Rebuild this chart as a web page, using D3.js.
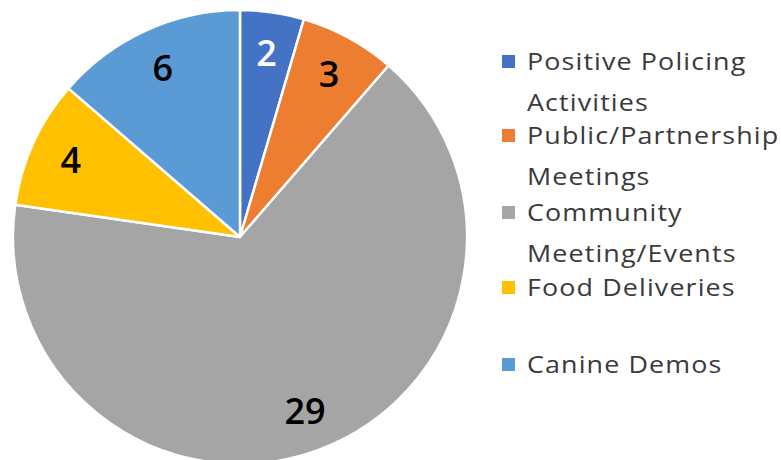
<!DOCTYPE html>
<html>
<head>
<meta charset="utf-8">
<script src="https://cdn.jsdelivr.net/npm/d3@7"></script>
<style>
  html, body { margin: 0; padding: 0; background: #ffffff; }
  svg { display: block; }
</style>
</head>
<body>
<svg id="chart" width="781" height="460"></svg>
<script>
const categories = ["Positive Policing Activities", "Public/Partnership Meetings", "Community Meeting/Events", "Food Deliveries", "Canine Demos"];
const legendLines = [["Positive Policing", "Activities"], ["Public/Partnership", "Meetings"], ["Community", "Meeting/Events"], ["Food Deliveries"], ["Canine Demos"]];
const values = [2, 3, 29, 4, 6];
const colors = ["#4472C4", "#ED7D31", "#A5A5A5", "#FFC000", "#5B9BD5"];
const labelColors = ["#ffffff", "#000000", "#000000", "#000000", "#000000"];

const svg = d3.select("#chart");
const cx = 240, cy = 237, R = 227;

const data = categories.map((c, i) => ({ name: c, value: values[i], color: colors[i], lc: labelColors[i], lines: legendLines[i] }));

const pie = d3.pie().sort(null).value(d => d.value);
const arcs = pie(data);
const arc = d3.arc().innerRadius(0).outerRadius(R);
const labelArc = d3.arc().innerRadius(186).outerRadius(186);

const g = svg.append("g").attr("transform", `translate(${cx},${cy})`);
g.selectAll("path").data(arcs).join("path")
  .attr("d", arc)
  .attr("fill", d => d.data.color)
  .attr("stroke", "#ffffff")
  .attr("stroke-width", 2.5)
  .attr("stroke-linejoin", "round");

g.selectAll("text").data(arcs).join("text")
  .attr("transform", d => `translate(${labelArc.centroid(d)})`)
  .attr("text-anchor", "middle")
  .attr("dy", "0.36em")
  .attr("font-family", "'Open Sans', 'Noto Sans', sans-serif")
  .attr("font-weight", 600)
  .attr("font-size", 36)
  .attr("fill", d => d.data.lc)
  .text(d => d.data.value);

// legend
const baselines = [70, 144, 221, 296, 373];
const lg = svg.append("g");
data.forEach((d, i) => {
  const y = baselines[i];
  lg.append("rect")
    .attr("x", 502).attr("y", y - 15)
    .attr("width", 13).attr("height", 13)
    .attr("fill", d.color);
  d.lines.forEach((ln, j) => {
    lg.append("text")
      .attr("transform", `translate(527,${y + j * 41}) scale(1.12,1)`)
      .attr("font-family", "'Open Sans', 'Noto Sans', sans-serif")
      .attr("font-size", 24)
      .attr("letter-spacing", 1)
      .attr("fill", "#3a3a3a")
      .text(ln);
  });
});
</script>
</body>
</html>
